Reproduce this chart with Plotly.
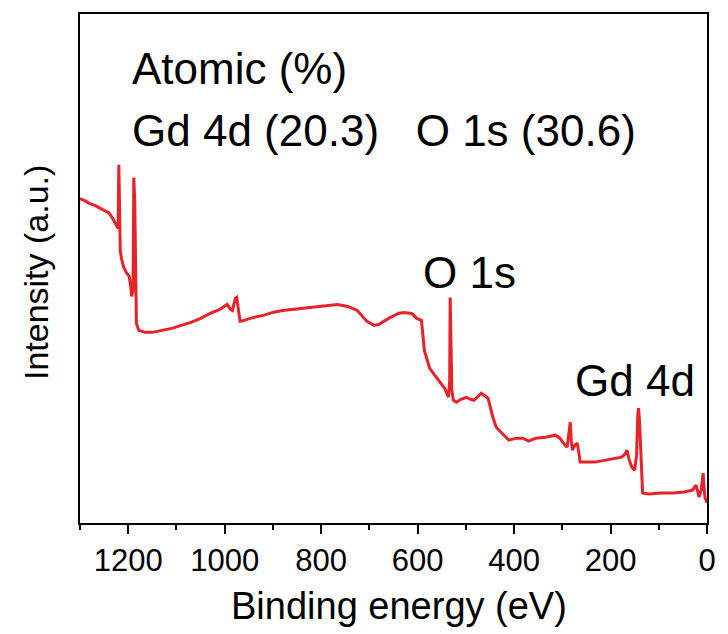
import plotly.graph_objects as go

# XPS survey spectrum (binding energy in eV, intensity in arbitrary units)
binding_energy = [
    1300, 1290, 1280, 1268, 1253, 1240, 1232, 1224, 1221, 1219.5, 1218, 1216.5,
    1214, 1210, 1204, 1198, 1195, 1193, 1190, 1188.5, 1186.5, 1184.5, 1183, 1178,
    1165, 1150, 1130, 1110, 1090, 1070, 1050, 1030, 1010, 995, 988, 984, 978, 975,
    972, 968, 960, 940, 920, 900, 880, 860, 848, 830, 800, 766, 745, 725, 705, 690,
    680, 660, 640, 629, 612, 602, 592, 586, 575, 561, 550, 544, 536, 533.5, 532.5,
    531, 529, 526, 520, 510, 499, 490, 483, 468, 460, 454, 444, 437, 425, 411, 395,
    382, 370, 355, 335, 314, 305, 298, 290, 285, 283.5, 281.5, 279, 274, 269, 265,
    263, 245, 232, 210, 190, 177, 170, 166, 161, 156, 150, 146, 143.5, 142, 140,
    137.5, 135, 133.5, 120, 95, 70, 47, 30, 22.6, 19, 16.4, 12, 9, 8, 6, 4, 2, 0,
]
intensity = [
    32.5, 32.3, 32.0, 31.8, 31.4, 31.1, 30.5, 29.7, 29.5, 35.9, 32.3, 27.3,
    26.5, 25.7, 25.1, 24.7, 23.8, 22.7, 23.3, 34.6, 32.3, 21.3, 20.0, 19.3,
    19.1, 19.1, 19.3, 19.5, 19.8, 20.1, 20.5, 21.0, 21.4, 21.9, 21.4, 21.3, 22.5, 22.6,
    21.5, 20.2, 20.3, 20.6, 20.8, 21.1, 21.3, 21.4, 21.5, 21.6, 21.7, 21.9, 21.7, 21.3, 20.2, 19.8,
    19.9, 20.5, 21.0, 21.1, 21.0, 20.5, 20.3, 17.3, 15.5, 14.6, 14.0, 13.5, 12.6, 14.3, 22.6,
    19.3, 13.3, 12.3, 12.1, 12.4, 12.6, 12.4, 12.3, 13.0, 12.7, 12.5, 10.6, 9.6, 9.0, 8.3, 8.5,
    8.5, 8.2, 8.5, 8.6, 8.8, 8.5, 8.0, 7.6, 9.3, 10.1, 8.3, 7.3, 7.8, 8.0, 6.8,
    6.1, 6.1, 6.1, 6.3, 6.5, 6.6, 6.9, 7.3, 6.3, 5.6, 5.3, 6.8, 10.8, 11.5, 10.3,
    7.3, 3.3, 3.0, 2.9, 3.0, 3.0, 3.1, 3.3, 3.8, 3.1, 2.6, 3.3, 4.8, 5.0, 3.5, 2.5, 2.3, 2.0,
]

x_ticks = [1200, 1000, 800, 600, 400, 200, 0]
peak_labels = [("O 1s", 493, 25.1), ("Gd 4d", 150, 14.3)]
composition_title = "Atomic (%)"
composition = [("Gd 4d", 20.3), ("O 1s", 30.6)]

FONT = "Arial, Liberation Sans, sans-serif"

fig = go.Figure()
fig.add_trace(go.Scatter(
    x=binding_energy, y=intensity, mode="lines",
    line=dict(color="#e6222a", width=3),
    showlegend=False, hoverinfo="skip",
))

for text, ex, ey in peak_labels:
    fig.add_annotation(x=ex, y=ey, xref="x", yref="y", text=text, showarrow=False,
                       font=dict(family=FONT, size=44, color="black"),
                       xanchor="center", yanchor="middle")

fig.add_annotation(x=0.079, y=0.892, xref="paper", yref="paper", text=composition_title,
                   showarrow=False, xanchor="left", yanchor="middle",
                   font=dict(family=FONT, size=44, color="black"))
comp_text = "\u00a0\u00a0\u00a0".join(f"{name} ({val:.1f})" for name, val in composition)
fig.add_annotation(x=0.079, y=0.771, xref="paper", yref="paper", text=comp_text,
                   showarrow=False, xanchor="left", yanchor="middle",
                   font=dict(family=FONT, size=44, color="black"))

fig.add_annotation(x=-0.071, y=0.492, xref="paper", yref="paper", text="Intensity (a.u.)",
                   textangle=-90, showarrow=False, xanchor="center", yanchor="middle",
                   font=dict(family=FONT, size=34, color="black"))
fig.add_annotation(x=0.509, y=-0.163, xref="paper", yref="paper", text="Binding energy (eV)",
                   showarrow=False, xanchor="center", yanchor="middle",
                   font=dict(family=FONT, size=38, color="black"))

fig.update_layout(
    width=728, height=634,
    margin=dict(l=80, r=15, t=13, b=111),
    paper_bgcolor="white", plot_bgcolor="white",
    font=dict(family=FONT, color="black"),
)
fig.update_xaxes(
    range=[1300, 0], tickvals=x_ticks, ticks="outside", ticklen=9, tickwidth=1.5,
    tickcolor="black", showline=True, linecolor="black", linewidth=2, mirror=True,
    showgrid=False, zeroline=False, tickfont=dict(family=FONT, size=31, color="black"),
    minor=dict(tickvals=[1300, 1100, 900, 700, 500, 300, 100], ticks="outside",
               ticklen=5, tickwidth=1.5, tickcolor="black", showgrid=False),
)
fig.update_yaxes(
    range=[0, 51], showticklabels=False, ticks="", showline=True, linecolor="black",
    linewidth=2, mirror=True, showgrid=False, zeroline=False,
)

fig.write_html("out.html")
